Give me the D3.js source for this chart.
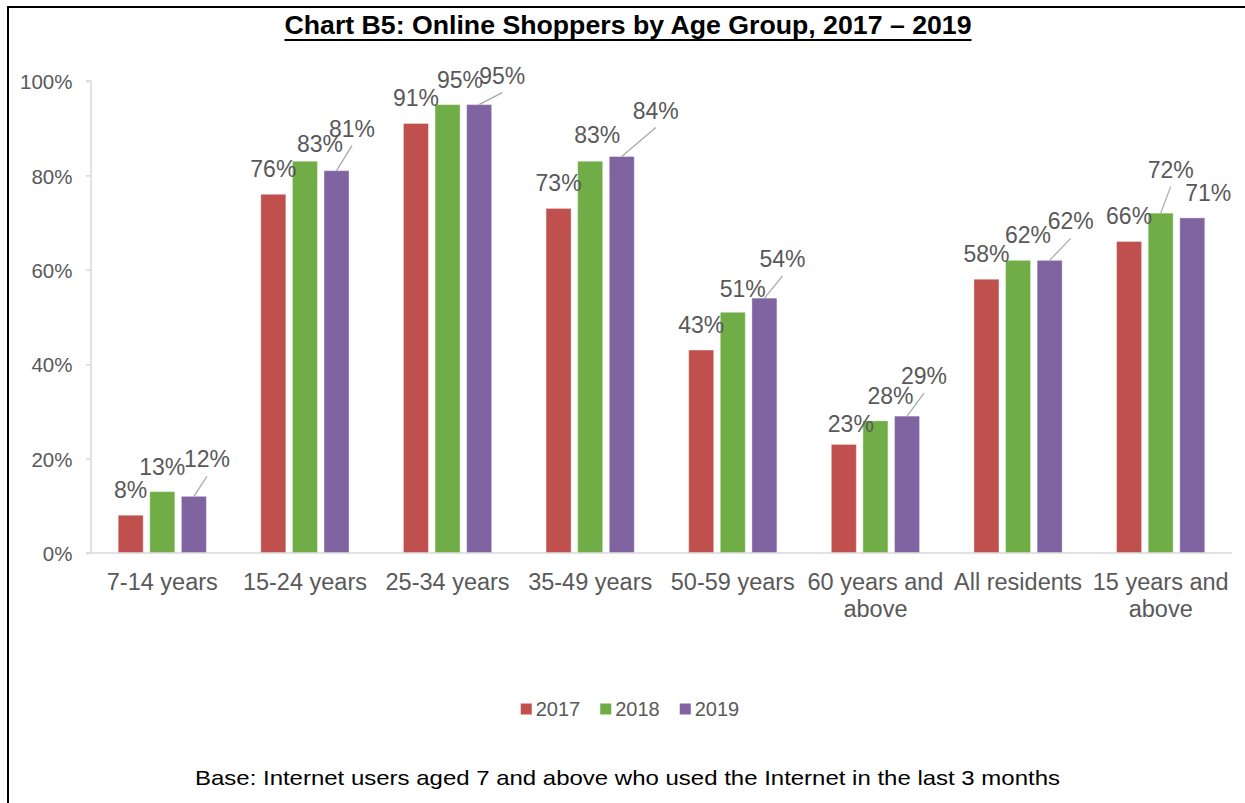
<!DOCTYPE html>
<html>
<head>
<meta charset="utf-8">
<script src="https://cdn.jsdelivr.net/npm/d3@7"></script>
<style>
  html, body { margin: 0; padding: 0; background: #fff; }
  svg { display: block; font-family: "Liberation Sans", Arial, sans-serif; }
</style>
</head>
<body>
<svg id="chart" width="1245" height="803"></svg>
<script>
// ---- data ----
const categories = ["7-14 years", "15-24 years", "25-34 years", "35-49 years",
                    "50-59 years", "60 years and above", "All residents", "15 years and above"];
const years = ["2017", "2018", "2019"];
const values2017 = [8, 76, 91, 73, 43, 23, 58, 66];
const values2018 = [13, 83, 95, 83, 51, 28, 62, 72];
const values2019 = [12, 81, 95, 84, 54, 29, 62, 71];
const yTicks = [0, 20, 40, 60, 80, 100];

// ---- layout: per-label nudges [dx, dy, leader line?] relative to the default outside-end spot ----
const labelNudge = [
  [[0, 0], [0, 0], [13, -12, true]],
  [[0, 0], [15, 7.5], [15.5, -17, true]],
  [[0, 0], [12.5, 0], [23, -4, true]],
  [[0, 0], [7, -1.5], [34, -21, true]],
  [[0, 0], [10, 2], [18, -14, true]],
  [[7, 5], [15, 0], [17, -15, true]],
  [[0, 0], [10, 0], [21, -14, true]],
  [[0, 0], [10, -18.5, true], [16, 0]]
];

const colors = { "2017": "#C0504D", "2018": "#70AD47", "2019": "#8064A2" };
const seriesValues = [values2017, values2018, values2019];
const rows = categories.map((c, i) => ({ cat: c, i, vals: years.map((y, k) => ({ year: y, k, v: seriesValues[k][i] })) }));

const svg = d3.select("#chart");

// outer frame (left and top edges show; the rest runs past the canvas)
svg.append("rect")
  .attr("x", 8).attr("y", 7).attr("width", 1260).attr("height", 820)
  .attr("fill", "none").attr("stroke", "#000").attr("stroke-width", 2);

// title
svg.append("text")
  .attr("x", 628).attr("y", 34)
  .attr("text-anchor", "middle")
  .attr("font-weight", "bold").attr("font-size", 26)
  .attr("fill", "#000")
  .attr("textLength", 687).attr("lengthAdjust", "spacingAndGlyphs")
  .text("Chart B5: Online Shoppers by Age Group, 2017 \u2013 2019");
svg.append("line")
  .attr("x1", 628 - 687 / 2).attr("x2", 628 + 687 / 2)
  .attr("y1", 40).attr("y2", 40)
  .attr("stroke", "#000").attr("stroke-width", 2);

// scales
const x0 = d3.scaleBand().domain(categories).range([91, 1232]).paddingInner(0).paddingOuter(0);
const x1 = d3.scaleBand().domain(years).range([27.2, 115.4]).paddingInner(0.209).paddingOuter(0);
const y = d3.scaleLinear().domain([0, 100]).range([553, 81]);

const axisColor = "#d9d9d9";
const textColor = "#595959";

// value axis
const yAxis = svg.append("g").attr("transform", "translate(91,0)")
  .call(d3.axisLeft(y).tickValues(yTicks).tickSize(5).tickFormat(d => d + "%"));
yAxis.select(".domain").attr("stroke", axisColor).attr("stroke-width", 1.5)
  .attr("d", `M-5,${y(100)}H0V${y(0)}`);
yAxis.selectAll(".tick line").attr("stroke", axisColor).attr("stroke-width", 1.5);
yAxis.selectAll(".tick text")
  .attr("x", -18.5).attr("dy", "0.38em")
  .attr("fill", textColor).attr("font-size", 20.5)
  .attr("font-family", "Liberation Sans, Arial, sans-serif");

// bars
const groups = svg.append("g").selectAll("g").data(rows).join("g")
  .attr("transform", d => `translate(${x0(d.cat)},0)`);

groups.selectAll("rect").data(d => d.vals).join("rect")
  .attr("x", d => x1(d.year))
  .attr("width", x1.bandwidth())
  .attr("y", d => y(d.v))
  .attr("height", d => y(0) - y(d.v))
  .attr("fill", d => colors[d.year])
  .attr("stroke", "#fff").attr("stroke-opacity", 0.35).attr("stroke-width", 1);

// category axis
const xAxis = svg.append("g").attr("transform", `translate(0,${y(0)})`)
  .call(d3.axisBottom(x0).tickSize(0).tickPadding(0));
xAxis.select(".domain").attr("stroke", axisColor).attr("stroke-width", 1.5)
  .attr("d", `M86,0H1232`);
xAxis.selectAll(".tick text")
  .attr("fill", textColor).attr("font-size", 23.5)
  .attr("font-family", "Liberation Sans, Arial, sans-serif")
  .attr("y", 37).attr("dy", 0)
  .each(function (d) {
    // wrap labels wider than one category slot
    const t = d3.select(this);
    const words = d.split(" ");
    t.text(null);
    let line = [];
    let tspan = t.append("tspan").attr("x", 0).attr("dy", 0);
    words.forEach(w => {
      line.push(w);
      tspan.text(line.join(" "));
      if (tspan.node().getComputedTextLength() > x0.step() - 2 && line.length > 1) {
        line.pop();
        tspan.text(line.join(" "));
        line = [w];
        tspan = t.append("tspan").attr("x", 0).attr("dy", 27).text(w);
      }
    });
  });

// data labels with leader lines
const labelLayer = svg.append("g");
rows.forEach(r => {
  r.vals.forEach(v => {
    const nudge = labelNudge[r.i][v.k];
    const cx = x0(r.cat) + x1(v.year) + x1.bandwidth() / 2;
    const top = y(v.v);
    const lx = cx + nudge[0];
    const ly = top - 17 + nudge[1];
    if (nudge[2]) {
      labelLayer.append("line")
        .attr("x1", cx).attr("y1", top)
        .attr("x2", lx).attr("y2", ly + 9)
        .attr("stroke", "#a6a6a6").attr("stroke-width", 1.2);
    }
    labelLayer.append("text")
      .attr("x", lx).attr("y", ly)
      .attr("text-anchor", "middle")
      .attr("fill", textColor).attr("font-size", 23)
      .text(v.v + "%");
  });
});

// legend
const legend = svg.append("g");
let lxPos = 0;
years.forEach(yr => {
  const g = legend.append("g");
  g.append("rect").attr("x", 0).attr("y", -12.5).attr("width", 11).attr("height", 11).attr("fill", colors[yr]);
  const t = g.append("text").attr("x", 15).attr("y", 0)
    .attr("fill", textColor).attr("font-size", 20).text(yr);
  const w = 15 + t.node().getComputedTextLength();
  g.attr("transform", `translate(${lxPos},0)`);
  lxPos += w + 20;
});
const legendWidth = lxPos - 20;
legend.attr("transform", `translate(${630 - legendWidth / 2},716)`);

// footnote
svg.append("text")
  .attr("x", 627.5).attr("y", 785)
  .attr("text-anchor", "middle")
  .attr("fill", "#000").attr("font-size", 21)
  .attr("textLength", 865).attr("lengthAdjust", "spacingAndGlyphs")
  .text("Base: Internet users aged 7 and above who used the Internet in the last 3 months");
</script>
</body>
</html>
